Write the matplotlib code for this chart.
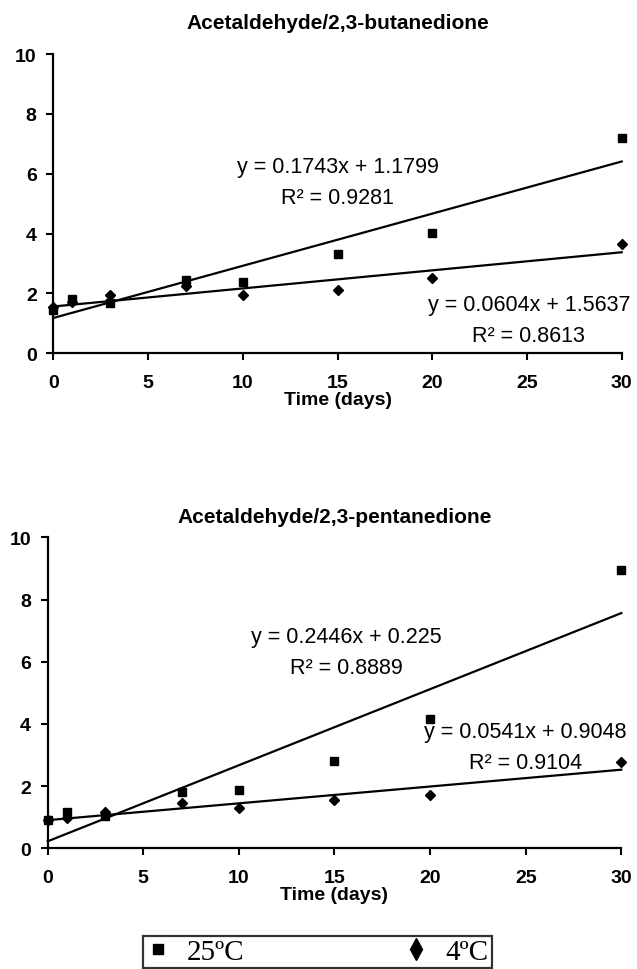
import numpy as np
import matplotlib
matplotlib.use("Agg")
import matplotlib.pyplot as plt
from matplotlib.lines import Line2D

plt.rcParams['font.family'] = ['Liberation Sans', 'DejaVu Sans']

# sampling days
days = [0, 1, 3, 7, 10, 15, 20, 30]

# Acetaldehyde/2,3-butanedione ratio
buta_25 = [1.45, 1.83, 1.68, 2.44, 2.38, 3.31, 4.02, 7.18]
buta_4 = [1.55, 1.72, 1.94, 2.24, 1.94, 2.11, 2.50, 3.65]

# Acetaldehyde/2,3-pentanedione ratio
penta_25 = [0.91, 1.18, 1.05, 1.80, 1.88, 2.80, 4.16, 8.95]
penta_4 = [0.90, 0.98, 1.16, 1.46, 1.30, 1.55, 1.70, 2.77]

# trendline coefficients (slope, intercept, R2) as printed on the chart
buta_fit_25 = (0.1743, 1.1799, 0.9281)
buta_fit_4 = (0.0604, 1.5637, 0.8613)
penta_fit_25 = (0.2446, 0.225, 0.8889)
penta_fit_4 = (0.0541, 0.9048, 0.9104)

titles = ['Acetaldehyde/2,3-butanedione', 'Acetaldehyde/2,3-pentanedione']
legend_labels = ['25\u00baC', '4\u00baC']

W, H = 637, 970
fig = plt.figure(figsize=(W / 100, H / 100), dpi=100)

ax1 = fig.add_axes([53.3 / W, 1 - 354.3 / H, (621.7 - 53.3) / W, (354.3 - 55) / H])
ax2 = fig.add_axes([47.7 / W, 1 - 849.3 / H, (621.3 - 47.7) / W, (849.3 - 538.3) / H])


def fit_text(fit):
    return 'y = %gx + %g\nR\u00b2 = %g' % fit


def draw(ax, title, y25, y4, fit25, fit4, pos25, pos4, title_pad):
    xs = np.array([0, 30])
    ax.plot(xs, fit25[0] * xs + fit25[1], color='black', lw=1.6, zorder=2, clip_on=False)
    ax.plot(xs, fit4[0] * xs + fit4[1], color='black', lw=1.6, zorder=2, clip_on=False)
    ax.plot(days, y4, linestyle='none', marker='D', markersize=5.5, color='black',
            zorder=3, clip_on=False)
    ax.plot(days, y25, linestyle='none', marker='s', markersize=6, color='black',
            zorder=4, clip_on=False)

    ax.text(pos25[0], pos25[1], fit_text(fit25), ha='center', va='center',
            fontsize=15.5, linespacing=1.6)
    ax.text(pos4[0], pos4[1], fit_text(fit4), ha='center', va='center',
            fontsize=15.5, linespacing=1.6)

    ax.set_xlim(0, 30)
    ax.set_ylim(0, 10)
    ax.set_xticks(range(0, 31, 5))
    ax.set_yticks(range(0, 11, 2))
    for sp in ['top', 'right']:
        ax.spines[sp].set_visible(False)
    for sp in ['left', 'bottom']:
        ax.spines[sp].set_linewidth(1.6)
    ax.tick_params(axis='both', direction='out', length=5, width=1.5,
                   labelsize=14)
    ax.tick_params(axis='x', pad=10)
    ax.tick_params(axis='y', pad=7)
    for lab in ax.get_xticklabels() + ax.get_yticklabels():
        lab.set_fontweight('bold')
    ax.set_xlabel('Time (days)', fontsize=14, fontweight='bold', labelpad=0)
    ax.set_title(title, fontsize=15, fontweight='bold', pad=title_pad)


draw(ax1, titles[0], buta_25, buta_4, buta_fit_25, buta_fit_4,
     (15.0, 5.73), (25.1, 1.11), 19)
draw(ax2, titles[1], penta_25, penta_4, penta_fit_25, penta_fit_4,
     (15.6, 6.31), (25.0, 3.26), 11)

handles = [Line2D([], [], linestyle='none', marker='s', markersize=7.5, color='black'),
           Line2D([], [], linestyle='none', marker='d', markersize=11, color='black')]
leg = fig.legend(handles, legend_labels, loc='lower left',
                 bbox_to_anchor=(143.3 / W, 1 - 969.3 / H, (491.7 - 143.3) / W, 38.6 / H),
                 mode='expand', ncol=2, frameon=True, fancybox=False,
                 borderpad=0.1, handlelength=0.8, handletextpad=0.6,
                 borderaxespad=0, prop={'family': 'Liberation Serif', 'size': 21})
leg.get_frame().set_edgecolor('black')
leg.get_frame().set_linewidth(1.6)

fig.savefig('out.png', dpi=100)
